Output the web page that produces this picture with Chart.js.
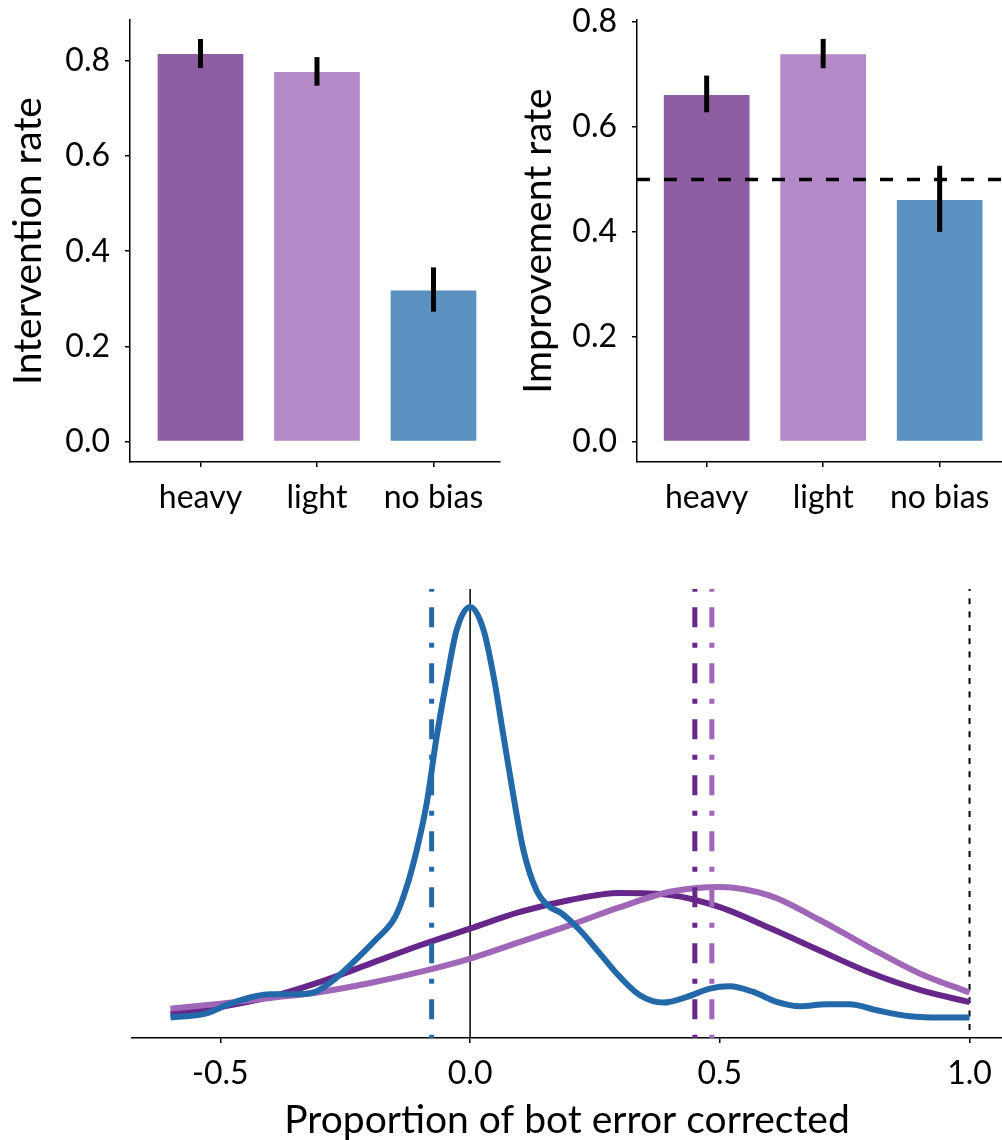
<!DOCTYPE html>
<html>
<head>
<meta charset="utf-8">
<script src="https://cdn.jsdelivr.net/npm/chart.js@4.4.1/dist/chart.umd.min.js"></script>
<style>
  body { margin: 0; background: #fff; }
  #wrap { position: relative; width: 1002px; height: 1140px; overflow: hidden; }
  canvas { position: absolute; }
</style>
</head>
<body>
<div id="wrap">
  <canvas id="interventionChart" width="502" height="540" style="left:0;top:0"></canvas>
  <canvas id="improvementChart" width="502" height="540" style="left:500px;top:0"></canvas>
  <canvas id="densityChart" width="1002" height="584" style="left:0;top:560px"></canvas>
</div>
<script>
// bar panels
const conditions = ['heavy', 'light', 'no bias'];
const interventionRate = [0.816, 0.778, 0.319];
const interventionLow = [0.785, 0.748, 0.273];
const interventionHigh = [0.846, 0.808, 0.366];
const improvementRate = [0.662, 0.740, 0.462];
const improvementLow = [0.628, 0.712, 0.400];
const improvementHigh = [0.698, 0.768, 0.526];
const chanceLevel = 0.5;
const rateTicks = [0, 0.2, 0.4, 0.6, 0.8];

// density panel
const densityX = [-0.6, -0.5, -0.4, -0.3, -0.2, -0.1, 0.0, 0.1, 0.2, 0.3, 0.4, 0.5, 0.6, 0.7, 0.8, 0.9, 1.0];
const heavyDensity = [0.19, 0.242, 0.32, 0.437, 0.58, 0.723, 0.853, 0.983, 1.076, 1.13, 1.115, 1.02, 0.857, 0.682, 0.51, 0.375, 0.28];
const lightDensity = [0.229, 0.268, 0.312, 0.359, 0.429, 0.515, 0.619, 0.749, 0.88, 1.02, 1.14, 1.178, 1.11, 0.92, 0.705, 0.503, 0.355];
const noBiasX = [-0.6, -0.53, -0.48, -0.43, -0.40, -0.35, -0.31, -0.27, -0.23, -0.19, -0.15, -0.127, -0.107, -0.087, -0.067, -0.047, -0.027, 0,
                 0.027, 0.047, 0.067, 0.087, 0.107, 0.133, 0.16, 0.18, 0.22, 0.26, 0.30, 0.34, 0.387, 0.434, 0.48, 0.52, 0.567, 0.614, 0.66,
                 0.714, 0.76, 0.814, 0.88, 0.947, 1.0];
const noBiasDensity = [0.16, 0.19, 0.268, 0.325, 0.341, 0.341, 0.36, 0.463, 0.606, 0.762, 0.944, 1.178, 1.464, 1.828, 2.348, 2.79, 3.18, 3.36,
                       3.18, 2.82, 2.35, 1.88, 1.46, 1.15, 1.02, 0.98, 0.84, 0.658, 0.476, 0.333, 0.276, 0.32, 0.385, 0.403, 0.359, 0.281, 0.247,
                       0.263, 0.263, 0.216, 0.169, 0.159, 0.159];
const meanCorrected = [0.450, 0.484, -0.077]; // heavy, light, no bias
const correctedTicks = [-0.5, 0.0, 0.5, 1.0];

const BAR_COLORS = ['#8E5DA2', '#B489C8', '#5B91C1'];
const LINE_COLORS = ['#67278A', '#A066B8', '#2369AA'];
const TICK_FONT = { size: 32 };
const TITLE_FONT = { size: 39 };
const DENSITY_MAX = 3.5;

Chart.defaults.font.family = 'Lato, "Open Sans", sans-serif';
Chart.defaults.color = '#000';

const axisGrid = { display: true, drawOnChartArea: false, drawTicks: true, tickLength: 5, color: '#000', lineWidth: 1.5, offset: false };
const axisBorder = { display: true, color: '#000', width: 1.5 };
// keep the plot area where the layout padding puts it
const noLabelPadding = s => { s.paddingTop = 0; s.paddingBottom = 0; s.paddingLeft = 0; s.paddingRight = 0; };

const chancePlugin = {
    id: 'chanceLine',
    afterDatasetsDraw(chart, args, opts) {
        const { ctx, chartArea, scales: { y } } = chart;
        const py = y.getPixelForValue(opts.value);
        ctx.save();
        ctx.strokeStyle = '#000';
        ctx.lineWidth = 3.5;
        ctx.setLineDash([13, 14]);
        ctx.beginPath();
        ctx.moveTo(chartArea.left, py);
        ctx.lineTo(chartArea.right, py);
        ctx.stroke();
        ctx.restore();
    }
};

const errorBarPlugin = {
    id: 'errorBars',
    afterDatasetsDraw(chart, args, opts) {
        const { ctx, scales: { x, y } } = chart;
        ctx.save();
        ctx.strokeStyle = '#000';
        ctx.lineWidth = 5;
        opts.low.forEach((lo, i) => {
            const px = x.getPixelForValue(i);
            ctx.beginPath();
            ctx.moveTo(px, y.getPixelForValue(lo));
            ctx.lineTo(px, y.getPixelForValue(opts.high[i]));
            ctx.stroke();
        });
        ctx.restore();
    }
};

function rateChart(canvasId, values, low, high, cfg) {
    const plugins = cfg.chance ? [chancePlugin, errorBarPlugin] : [errorBarPlugin];
    return new Chart(document.getElementById(canvasId), {
        type: 'bar',
        data: {
            datasets: [{
                data: values.map((v, i) => ({ x: i, y: v })),
                backgroundColor: BAR_COLORS,
                borderColor: 'rgba(255,255,255,0.3)',
                borderWidth: 1,
                barThickness: 87
            }]
        },
        options: {
            responsive: false,
            animation: false,
            layout: { padding: { top: 20, left: 0, right: cfg.rightPad, bottom: 0 } },
            plugins: {
                legend: { display: false },
                tooltip: { enabled: false },
                chanceLine: { value: chanceLevel },
                errorBars: { low: low, high: high }
            },
            scales: {
                x: {
                    type: 'linear', min: cfg.xMin, max: cfg.xMax, offset: false,
                    afterBuildTicks: s => { s.ticks = conditions.map((c, i) => ({ value: i })); },
                    afterFit: s => { s.height = 78; noLabelPadding(s); },
                    ticks: { callback: v => conditions[v], padding: 11, font: TICK_FONT, color: '#000' },
                    grid: axisGrid,
                    border: axisBorder
                },
                y: {
                    min: cfg.yMin, max: cfg.yMax,
                    afterBuildTicks: s => { s.ticks = rateTicks.map(v => ({ value: v })); },
                    afterFit: s => { s.width = cfg.axisWidth; noLabelPadding(s); },
                    ticks: { callback: v => v.toFixed(1), padding: 15, font: TICK_FONT, color: '#000' },
                    grid: axisGrid,
                    border: axisBorder,
                    title: { display: true, text: cfg.title, font: TITLE_FONT, color: '#000', padding: { top: cfg.titlePad, bottom: 0 } }
                }
            }
        },
        plugins: plugins
    });
}

rateChart('interventionChart', interventionRate, interventionLow, interventionHigh, {
    title: 'Intervention rate', xMin: -0.605, xMax: 2.571, yMin: -0.043, yMax: 0.886,
    axisWidth: 130, rightPad: 2, titlePad: 5, chance: false
});
rateChart('improvementChart', improvementRate, improvementLow, improvementHigh, {
    title: 'Improvement rate', xMin: -0.598, xMax: 2.535, yMin: -0.039, yMax: 0.804,
    axisWidth: 137, rightPad: 0, titlePad: 15, chance: true
});

// vertical reference lines, drawn top-down so the dash phase starts at the top
function vline(x, color, width, dash, dashOffset) {
    return {
        data: [{ x: x, y: DENSITY_MAX }, { x: x, y: 0 }],
        borderColor: color, borderWidth: width, borderDash: dash, borderDashOffset: dashOffset,
        pointRadius: 0, borderCapStyle: 'butt'
    };
}
function curve(xs, ys, color) {
    return {
        data: xs.map((x, i) => ({ x: x, y: ys[i] })),
        borderColor: color, borderWidth: 6, pointRadius: 0,
        cubicInterpolationMode: 'monotone', borderCapStyle: 'butt'
    };
}

const dashDot = [20, 15.5, 5, 15.5];
new Chart(document.getElementById('densityChart'), {
    type: 'line',
    data: {
        datasets: [
            vline(meanCorrected[0], LINE_COLORS[0], 5, dashDot, 37.8),
            vline(meanCorrected[1], LINE_COLORS[1], 5, dashDot, 37.8),
            vline(meanCorrected[2], LINE_COLORS[2], 5, dashDot, 37.8),
            curve(noBiasX, noBiasDensity, LINE_COLORS[2]),
            curve(densityX, lightDensity, LINE_COLORS[1]),
            curve(densityX, heavyDensity, LINE_COLORS[0]),
            vline(1.0, '#000', 2, [6, 7.3], 4),
            vline(0.0, '#000', 1.5, [], 0)
        ]
    },
    options: {
        responsive: false,
        animation: false,
        layout: { padding: { top: 29, left: 132, right: 0, bottom: 0 } },
        plugins: { legend: { display: false }, tooltip: { enabled: false } },
        scales: {
            x: {
                type: 'linear', min: -0.677, max: 1.065,
                afterBuildTicks: s => { s.ticks = correctedTicks.map(v => ({ value: v })); },
                afterFit: s => { s.height = 106; noLabelPadding(s); },
                ticks: { callback: v => v.toFixed(1), padding: 11, font: TICK_FONT, color: '#000' },
                grid: axisGrid,
                border: axisBorder,
                title: { display: true, text: 'Proportion of bot error corrected', font: TITLE_FONT, color: '#000', padding: { top: 0, bottom: 0 } }
            },
            y: { display: false, min: 0, max: DENSITY_MAX }
        }
    }
});
</script>
</body>
</html>
